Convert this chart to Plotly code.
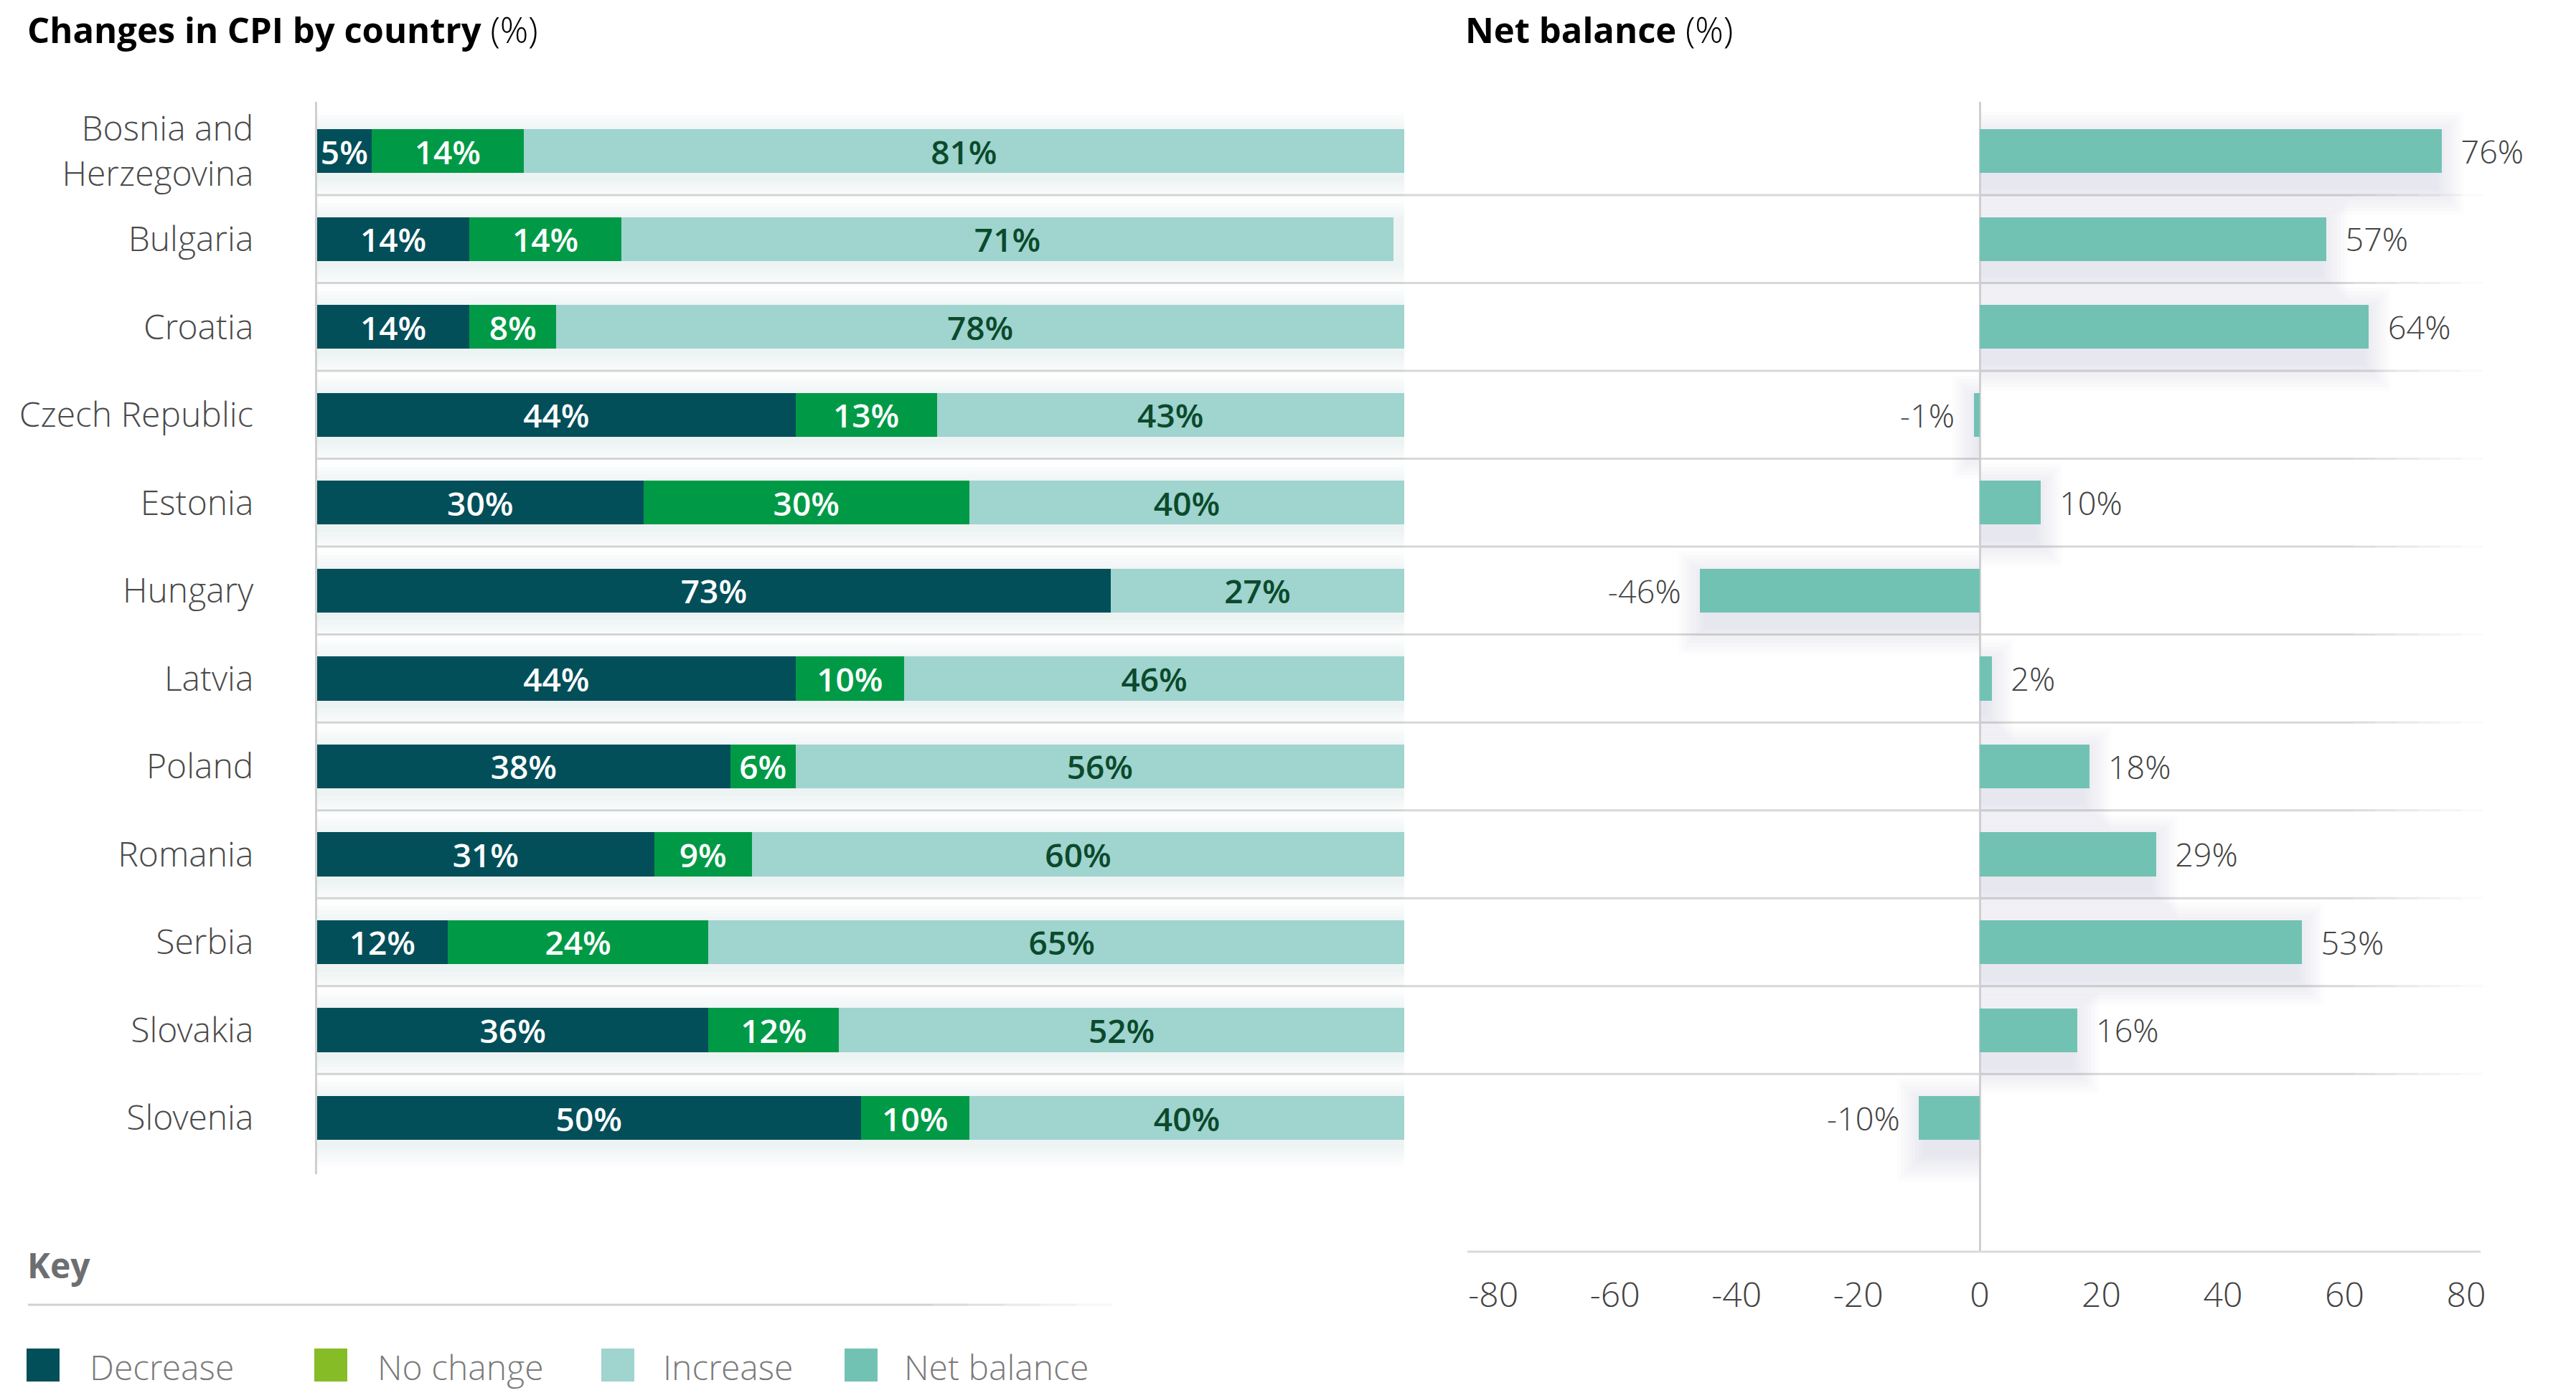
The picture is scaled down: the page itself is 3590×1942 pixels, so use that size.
import plotly.graph_objects as go

# ---------------- data ----------------
countries = ["Bosnia and<br>Herzegovina", "Bulgaria", "Croatia", "Czech Republic", "Estonia",
             "Hungary", "Latvia", "Poland", "Romania", "Serbia", "Slovakia", "Slovenia"]
decrease = [5, 14, 14, 44, 30, 73, 44, 38, 31, 12, 36, 50]
no_change = [14, 14, 8, 13, 30, 0, 10, 6, 9, 24, 12, 10]
increase = [81, 71, 78, 43, 40, 27, 46, 56, 60, 65, 52, 40]
net_balance = [76, 57, 64, -1, 10, -46, 2, 18, 29, 53, 16, -10]
net_ticks = [-80, -60, -40, -20, 0, 20, 40, 60, 80]
net_tick_text = ["-80", "-60", "-40", "-20", "0", "20", "40", "60", "80"]
legend_labels = ["Decrease", "No change", "Increase", "Net balance"]

# ---------------- style ----------------
W, H = 3590, 1942
OFF = 8  # page body margin
FONT = "Open Sans Light, Open Sans"
FONT_B = "Open Sans"
C_DEC = "#024F5A"
C_NOC = "#009A46"
C_NOC_KEY = "#86BC25"
C_INC = "#9FD4CF"
C_NET = "#72C2B4"
GREY_TXT = "#4A4A4A"
NBSP = "\u00a0"

def px_x(p):
    return (p - OFF) / W

def px_y(p):
    return 1 - (p - OFF) / H

fig = go.Figure()

def lbl(vals):
    return [f"{v}%" if v > 0 else "" for v in vals]

for vals, col, tcol, name in [(decrease, C_DEC, "white", "Decrease"),
                              (no_change, C_NOC, "white", "No change"),
                              (increase, C_INC, "#0B4A2C", "Increase")]:
    fig.add_trace(go.Bar(
        x=vals, y=countries, orientation="h", name=name,
        marker=dict(color=col, line=dict(width=0)),
        text=lbl(vals), textposition="inside", insidetextanchor="middle",
        textangle=0, constraintext="none",
        textfont=dict(family=FONT_B, size=46, color=tcol, weight=600),
        xaxis="x", yaxis="y", showlegend=False, hoverinfo="skip",
    ))

net_text = [(NBSP * 2 + f"{v}%") if v >= 0 else (f"{v}%" + NBSP * 2) for v in net_balance]
fig.add_trace(go.Bar(
    x=net_balance, y=countries, orientation="h", name="Net balance",
    marker=dict(color=C_NET, line=dict(width=0)),
    text=net_text, textposition="outside",
    textangle=0, cliponaxis=False,
    textfont=dict(family=FONT, size=47, color="#444444", weight=300),
    xaxis="x2", yaxis="y2", showlegend=False, hoverinfo="skip",
))

shapes = []
ROW_PX = 122.55
LEFT_PX_PER_UNIT = 1515 / 100
RIGHT_PX_PER_UNIT = 1356 / 160
SH_COL = "#7B88AE"

# soft glow around the stacked bars (built from the data)
totals = [d + n + i for d, n, i in zip(decrease, no_change, increase)]
for idx, t in enumerate(totals):
    for k in range(1, 7):
        s = k * 5
        shapes.append(dict(type="rect", xref="x", yref="y",
                           x0=0, x1=t + (s * 1.8 + 4) / LEFT_PX_PER_UNIT,
                           y0=idx - 0.25 - (s - 6) / ROW_PX,
                           y1=idx + 0.25 + (s + 6) / ROW_PX,
                           fillcolor=SH_COL, opacity=0.02,
                           line=dict(width=0), layer="below"))
# drop shadow below net-balance bars
for idx, v in enumerate(net_balance):
    lo, hi = min(0, v), max(0, v)
    for k in range(1, 9):
        s = k * 5
        shapes.append(dict(type="rect", xref="x2", yref="y2",
                           x0=lo - (s - 10) / RIGHT_PX_PER_UNIT if v < 0 else lo,
                           x1=hi + (s - 10) / RIGHT_PX_PER_UNIT if v > 0 else hi,
                           y0=idx - 0.25 + (16 - s) / ROW_PX,
                           y1=idx + 0.25 + (18 + s) / ROW_PX,
                           fillcolor=SH_COL, opacity=0.024,
                           line=dict(width=0), layer="below"))

# row separators
x_start = 442
for i in range(len(countries) - 1):
    shapes.append(dict(type="line", xref="paper", yref="y",
                       x0=px_x(x_start), x1=px_x(3280), y0=i + 0.5, y1=i + 0.5,
                       line=dict(color="#D8D8D8", width=3), layer="below"))
    for k in range(6):
        a = 0.85 - k * 0.15
        shapes.append(dict(type="line", xref="paper", yref="y",
                           x0=px_x(3280 + k * 30), x1=px_x(3280 + (k + 1) * 30),
                           y0=i + 0.5, y1=i + 0.5, opacity=a,
                           line=dict(color="#D8D8D8", width=3), layer="below"))
# bottom line of net-balance panel
shapes.append(dict(type="line", xref="paper", yref="paper",
                   x0=px_x(2045), x1=px_x(3457), y0=px_y(1745), y1=px_y(1745),
                   line=dict(color="#DADADA", width=3)))
# key separator line
shapes.append(dict(type="line", xref="paper", yref="paper",
                   x0=px_x(39), x1=px_x(1300), y0=px_y(1819), y1=px_y(1819),
                   line=dict(color="#D0D0D0", width=3)))
for k in range(5):
    shapes.append(dict(type="line", xref="paper", yref="paper",
                       x0=px_x(1300 + k * 50), x1=px_x(1300 + (k + 1) * 50),
                       y0=px_y(1819), y1=px_y(1819), opacity=0.8 - k * 0.16,
                       line=dict(color="#D0D0D0", width=3)))

LIGHT_SPAN = "<span style=\"font-family:'Open Sans Light'\">"
annotations = [
    dict(text="<b>Changes in CPI by country</b>" + LIGHT_SPAN + " (%)</span>",
         xref="paper", yref="paper",
         x=px_x(36), y=px_y(41), xanchor="left", yanchor="middle", showarrow=False,
         font=dict(family=FONT_B, size=49, color="#000000")),
    dict(text="<b>Net balance</b>" + LIGHT_SPAN + " (%)</span>",
         xref="paper", yref="paper",
         x=px_x(2040), y=px_y(41), xanchor="left", yanchor="middle", showarrow=False,
         font=dict(family=FONT_B, size=49, color="#000000")),
    dict(text="<b>Key</b>", xref="paper", yref="paper",
         x=px_x(36), y=px_y(1763), xanchor="left", yanchor="middle", showarrow=False,
         font=dict(family=FONT_B, size=48, color="#6D6E71")),
]

key_colors = [C_DEC, C_NOC_KEY, C_INC, C_NET]
key_sq_x = [37, 438, 838, 1177]
key_txt_x = [123, 524, 922, 1258]
for lab, col, sx, tx in zip(legend_labels, key_colors, key_sq_x, key_txt_x):
    shapes.append(dict(type="rect", xref="paper", yref="paper",
                       x0=px_x(sx), x1=px_x(sx + 46), y0=px_y(1926), y1=px_y(1880),
                       fillcolor=col, line=dict(width=0)))
    annotations.append(dict(text=lab, xref="paper", yref="paper",
                            x=px_x(tx), y=px_y(1905), xanchor="left", yanchor="middle",
                            showarrow=False,
                            font=dict(family=FONT, size=48, color="#7A7A7A", weight=300)))

fig.update_layout(
    width=W, height=H,
    margin=dict(l=0, r=0, t=0, b=0, autoexpand=False),
    paper_bgcolor="white", plot_bgcolor="rgba(0,0,0,0)",
    barmode="stack", bargap=0.5,
    font=dict(family=FONT, size=48, color=GREY_TXT),
    shapes=shapes, annotations=annotations,
    xaxis=dict(domain=[px_x(442), px_x(1957)], range=[0, 100], showgrid=False,
               zeroline=False, showticklabels=False, showline=False, fixedrange=True,
               automargin=False),
    yaxis=dict(domain=[px_y(1637), px_y(142)], range=[11.64, -0.56],
               type="category", categoryorder="array", categoryarray=countries,
               showgrid=False, zeroline=False, showline=True, linecolor="#CFCFCF",
               linewidth=3, ticks="", ticklabelstandoff=76, automargin=False,
               tickfont=dict(family=FONT, size=48, color=GREY_TXT, weight=300),
               anchor="x"),
    xaxis2=dict(domain=[px_x(2081), px_x(3437)], range=[-80, 80], tickvals=net_ticks,
                ticktext=net_tick_text, automargin=False,
                showgrid=False, zeroline=True, zerolinecolor="#CFCFCF", zerolinewidth=3,
                showline=False, ticks="", ticklabelstandoff=28,
                tickfont=dict(family=FONT, size=48, color="#444444", weight=300),
                anchor="y2"),
    yaxis2=dict(domain=[px_y(1745), px_y(142)], range=[12.52, -0.56],
                type="category", categoryorder="array", categoryarray=countries,
                showgrid=False, zeroline=False, showline=False, showticklabels=False,
                ticks="", anchor="x2", automargin=False),
)

fig.write_html("out.html")
